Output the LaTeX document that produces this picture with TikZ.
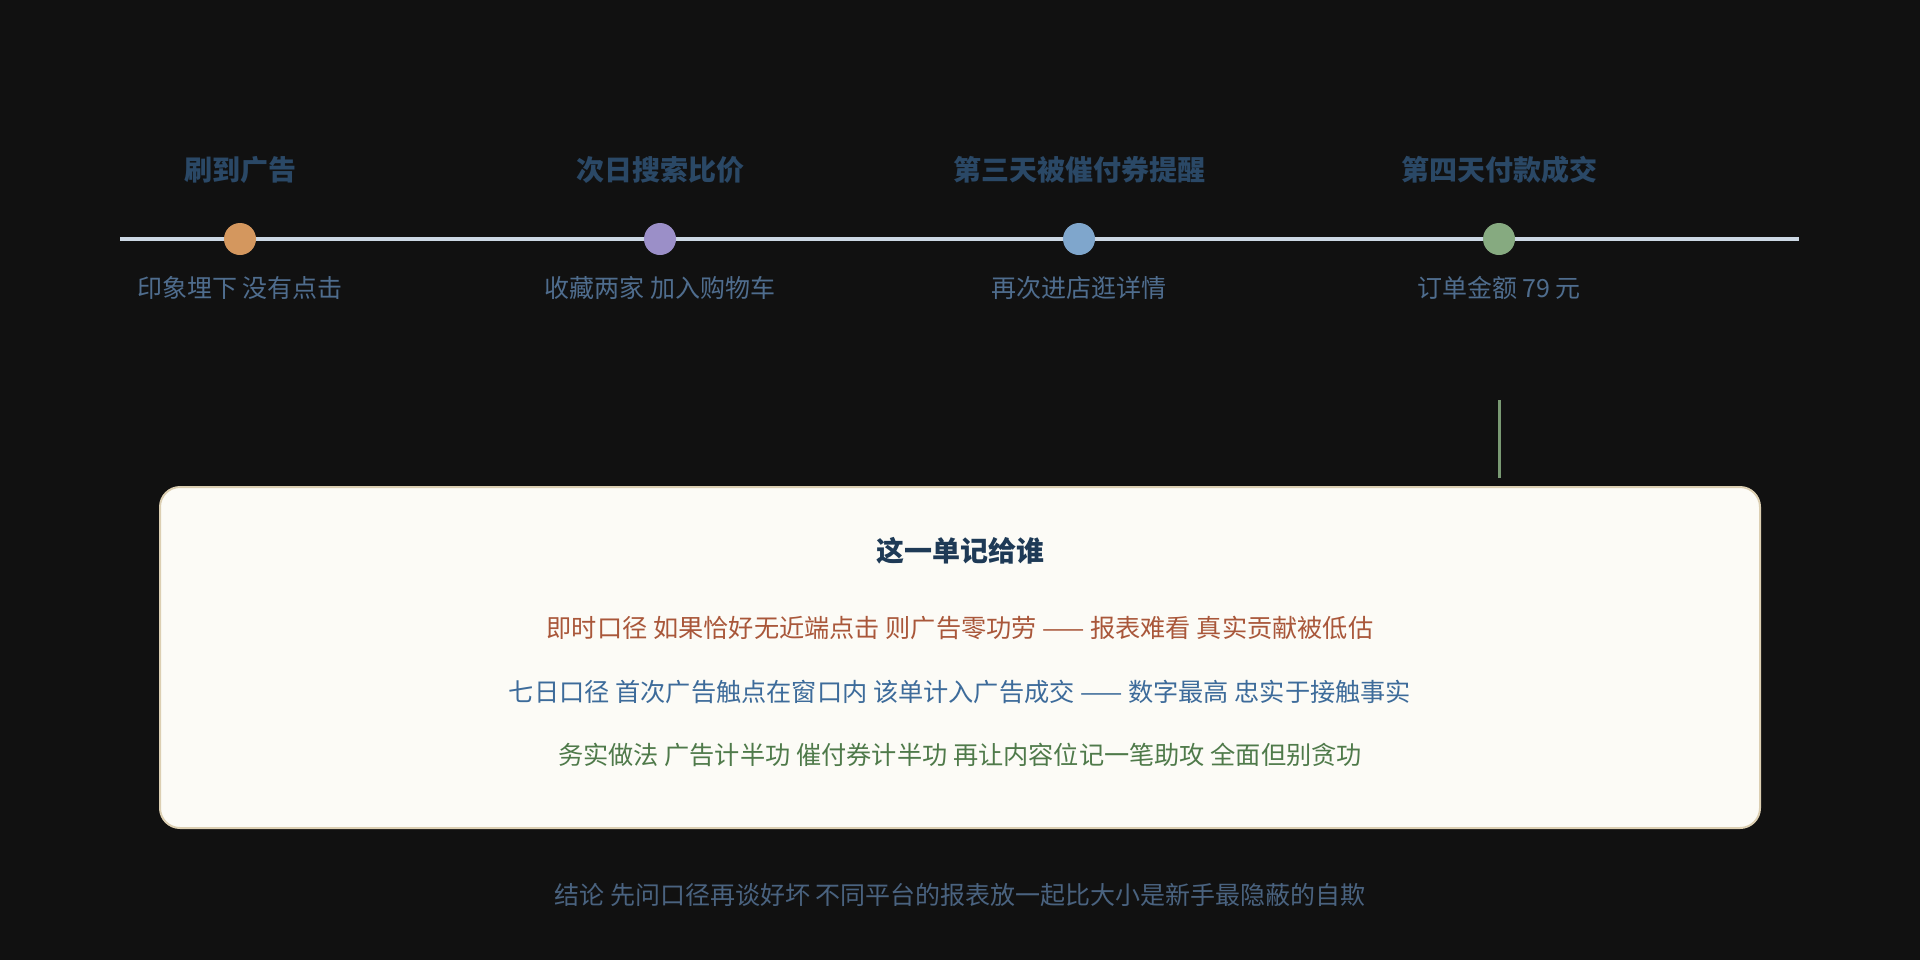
\documentclass[tikz,border=0pt]{standalone}
\usepackage{fontspec}
\setmainfont{Noto Sans CJK SC}
\usetikzlibrary{positioning}
\definecolor{bg}{HTML}{111111}
\definecolor{rail}{HTML}{CCD8E4}
\definecolor{dotA}{HTML}{D4975E}
\definecolor{dotB}{HTML}{9B8FC8}
\definecolor{dotC}{HTML}{7FA6CC}
\definecolor{dotD}{HTML}{86AA80}
\definecolor{titleblue}{HTML}{2A4866}
\definecolor{noteblue}{HTML}{4F6D8E}
\definecolor{cardfill}{HTML}{FCFBF6}
\definecolor{cardline}{HTML}{DCCFB2}
\definecolor{cardhead}{HTML}{1E3A56}
\definecolor{lineA}{HTML}{A9573A}
\definecolor{lineB}{HTML}{3D6B9A}
\definecolor{lineC}{HTML}{4F7A4A}
\definecolor{footblue}{HTML}{4A6380}

\begin{document}
\begin{tikzpicture}[x=0.5pt, y=-0.5pt,
	dot/.style={circle, minimum size=16pt, inner sep=0pt},
	steptitle/.style={text=titleblue, font=\fontsize{14pt}{16pt}\selectfont\bfseries},
	stepnote/.style={text=noteblue, font=\fontsize{12.5pt}{14pt}\selectfont},
	card/.style={draw=cardline, line width=1pt, fill=cardfill, rounded corners=10pt,
		minimum width=800pt, minimum height=170.5pt},
	cardtext/.style={font=\fontsize{12.6pt}{14pt}\selectfont}]
	\fill[bg] (0, 0) rectangle (1920, 960);

	% timeline
	\coordinate (rail start) at (120, 239);
	\coordinate (rail end) at (1799, 239);
	\draw[rail, line width=2pt] (rail start) -- (rail end);
	\foreach \n/\x/\c/\top/\low in {ad/240/dotA/刷到广告/印象埋下 没有点击,
		search/660/dotB/次日搜索比价/收藏两家 加入购物车,
		coupon/1079/dotC/第三天被催付券提醒/再次进店逛详情,
		pay/1499/dotD/第四天付款成交/订单金额 79 元}
	{
		\node[dot, fill=\c] (\n) at (\x, 239) {};
		\node[steptitle] (\n title) at (\x, 170) {\top};
		\node[stepnote] (\n note) at (\x, 288) {\low};
	}

	% attribution card
	\node[card] (card) at (960, 657.5) {};
	\coordinate (lead) at (1499, 400);
	\draw[dotD!90!black, line width=1.5pt] (lead) -- ([yshift=4pt]lead |- card.north);
	\node[text=cardhead, font=\fontsize{14pt}{16pt}\selectfont\bfseries] (card title) at (960, 551) {这一单记给谁};
	\node[cardtext, text=lineA] (rule now) at (960, 628) {即时口径 如果恰好无近端点击 则广告零功劳 —— 报表难看 真实贡献被低估};
	\node[cardtext, text=lineB] (rule week) at (960, 692) {七日口径 首次广告触点在窗口内 该单计入广告成交 —— 数字最高 忠实于接触事实};
	\node[cardtext, text=lineC] (rule split) at (960, 755) {务实做法 广告计半功 催付券计半功 再让内容位记一笔助攻 全面但别贪功};

	\node[stepnote, text=footblue] (verdict) at (960, 895) {结论 先问口径再谈好坏 不同平台的报表放一起比大小是新手最隐蔽的自欺};
\end{tikzpicture}
\end{document}
